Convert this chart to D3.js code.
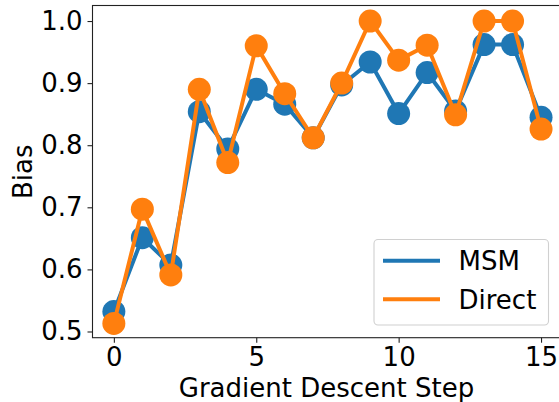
<!DOCTYPE html>
<html>
<head>
<meta charset="utf-8">
<script src="https://cdn.jsdelivr.net/npm/d3@7"></script>
<style>
  html, body { margin: 0; padding: 0; background: #fff; }
  svg { display: block; }
  text { font-family: "DejaVu Sans", sans-serif; }
</style>
</head>
<body>
<script>
const steps = d3.range(0, 16);
const msm = [0.532, 0.651, 0.607, 0.854, 0.794, 0.890, 0.866, 0.812, 0.897, 0.934, 0.851, 0.917, 0.855, 0.962, 0.962, 0.845];
const direct = [0.513, 0.697, 0.591, 0.890, 0.772, 0.960, 0.883, 0.812, 0.900, 1.000, 0.937, 0.961, 0.849, 1.000, 1.000, 0.826];
const seriesNames = ["MSM", "Direct"];
const seriesColors = ["#1f77b4", "#ff7f0e"];
const xTicks = [0, 5, 10, 15];
const yTicks = [0.5, 0.6, 0.7, 0.8, 0.9, 1.0];

const W = 559, H = 402;
const mLeft = 92.5, mRight = 562.4, mTop = 5.5, mBottom = 337.7;
const FS = 26;

const svg = d3.select("body").append("svg").attr("width", W).attr("height", H);

const x = d3.scaleLinear().domain([-0.75, 15.75]).range([mLeft, mRight]);
const y = d3.scaleLinear().domain([0.49, 1.025]).range([mBottom, mTop]);

// series
const seriesData = [msm, direct];
const line = d3.line().x((d, i) => x(steps[i])).y(d => y(d));
seriesData.forEach((vals, si) => {
  const g = svg.append("g");
  g.append("path").datum(vals)
    .attr("d", line).attr("fill", "none")
    .attr("stroke", seriesColors[si]).attr("stroke-width", 4)
    .attr("stroke-linejoin", "round").attr("stroke-linecap", "square");
  g.selectAll("circle").data(vals).enter().append("circle")
    .attr("cx", (d, i) => x(steps[i])).attr("cy", d => y(d))
    .attr("r", 11.5).attr("fill", seriesColors[si]);
});

// axes
const xAxis = d3.axisBottom(x).tickValues(xTicks).tickFormat(d3.format("d")).tickSize(5).tickPadding(5.3);
const yAxis = d3.axisLeft(y).tickValues(yTicks).tickFormat(d3.format(".1f")).tickSize(5).tickPadding(5);

const gx = svg.append("g").attr("transform", `translate(0,${mBottom})`).call(xAxis);
const gy = svg.append("g").attr("transform", `translate(${mLeft},0)`).call(yAxis);
[gx, gy].forEach(g => {
  g.select(".domain").remove();
  g.selectAll(".tick line").attr("stroke", "#222").attr("stroke-width", 1.1);
  g.selectAll(".tick text").attr("fill", "#000").style("font-size", FS + "px")
    .style("font-family", "DejaVu Sans, sans-serif");
});

// spines
svg.append("rect").attr("x", mLeft).attr("y", mTop)
  .attr("width", mRight - mLeft).attr("height", mBottom - mTop)
  .attr("fill", "none").attr("stroke", "#222").attr("stroke-width", 1.1);

// axis labels
svg.append("text").attr("x", 326.5).attr("y", 397.3)
  .attr("text-anchor", "middle").style("font-size", FS + "px").attr("fill", "#000")
  .text("Gradient Descent Step");
svg.append("text").attr("transform", `translate(31.7,171.7) rotate(-90)`)
  .attr("text-anchor", "middle").style("font-size", FS + "px").attr("fill", "#000")
  .text("Bias");

// legend
const lg = svg.append("g");
lg.append("rect").attr("x", 374).attr("y", 239.5).attr("width", 174.5).attr("height", 85.5)
  .attr("rx", 4).attr("ry", 4)
  .attr("fill", "#fff").attr("fill-opacity", 0.8)
  .attr("stroke", "#d0d0d0").attr("stroke-width", 1.1);
seriesNames.forEach((name, i) => {
  const ly = 260.7 + i * 38.5;
  lg.append("line").attr("x1", 383).attr("x2", 440).attr("y1", ly).attr("y2", ly)
    .attr("stroke", seriesColors[i]).attr("stroke-width", 4);
  lg.append("text").attr("x", 458.5).attr("y", ly + 9.5)
    .style("font-size", FS + "px").attr("fill", "#000").text(name);
});
</script>
</body>
</html>
